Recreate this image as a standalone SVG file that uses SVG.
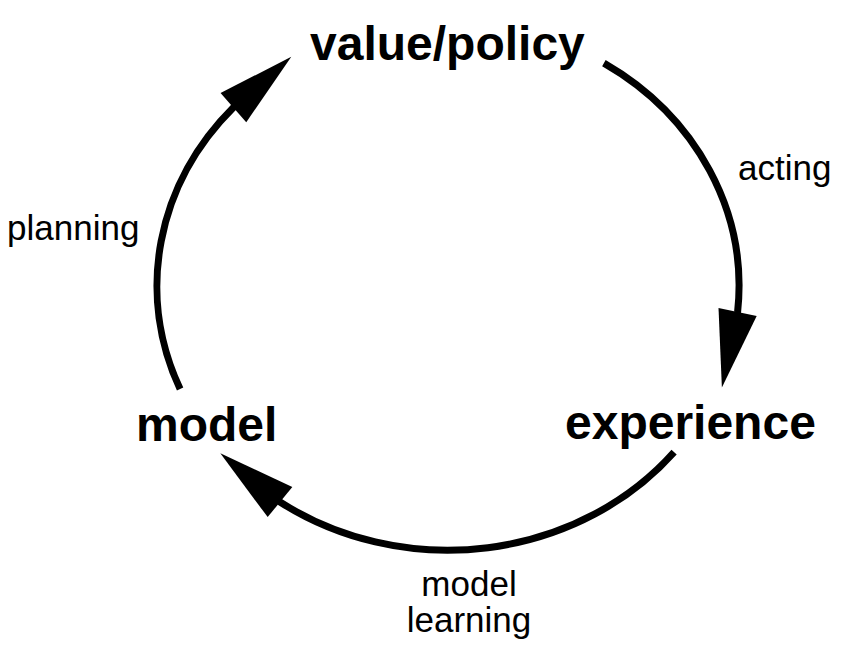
<svg xmlns="http://www.w3.org/2000/svg" width="842" height="665" viewBox="0 0 842 665">
  <style>
    .node { font-family: "Liberation Sans", Arial, sans-serif; font-weight: bold; font-size: 48px; fill: #000; }
    .lbl { font-family: "Liberation Sans", Arial, sans-serif; font-size: 35px; fill: #000; }
    .edge { fill: none; stroke: #000; stroke-width: 7; marker-end: url(#arrow); }
  </style>
  <defs>
    <marker id="arrow" markerUnits="userSpaceOnUse" markerWidth="80" markerHeight="42" refX="1" refY="20" orient="auto" overflow="visible">
      <polygon points="0,0.5 77,20 0,39.5" fill="#000"/>
    </marker>
  </defs>
  <rect width="842" height="665" fill="#fff"/>
  <g id="connectors">
    <path id="acting" class="edge" d="M603.9,63.1 A291,264 0 0 1 737.6,312 l-0.204,0.979"/>
    <path id="model-learning" class="edge" d="M674.1,452.1 A291,264 0 0 1 280,502 l-0.775,-0.632"/>
    <path id="planning" class="edge" d="M180.1,389.1 A291,264 0 0 1 233.4,107.6 l0.752,-0.659"/>
  </g>
  <g id="node-value-policy"><text class="node" x="310" y="60">value/policy</text></g>
  <g id="node-experience"><text class="node" x="565" y="439">experience</text></g>
  <g id="node-model"><text class="node" x="136" y="441">model</text></g>
  <g id="labels">
    <text class="lbl" x="738" y="180">acting</text>
    <text class="lbl" x="7" y="240">planning</text>
    <text class="lbl" x="469" y="596" text-anchor="middle">model</text>
    <text class="lbl" x="469" y="632" text-anchor="middle">learning</text>
  </g>
</svg>
